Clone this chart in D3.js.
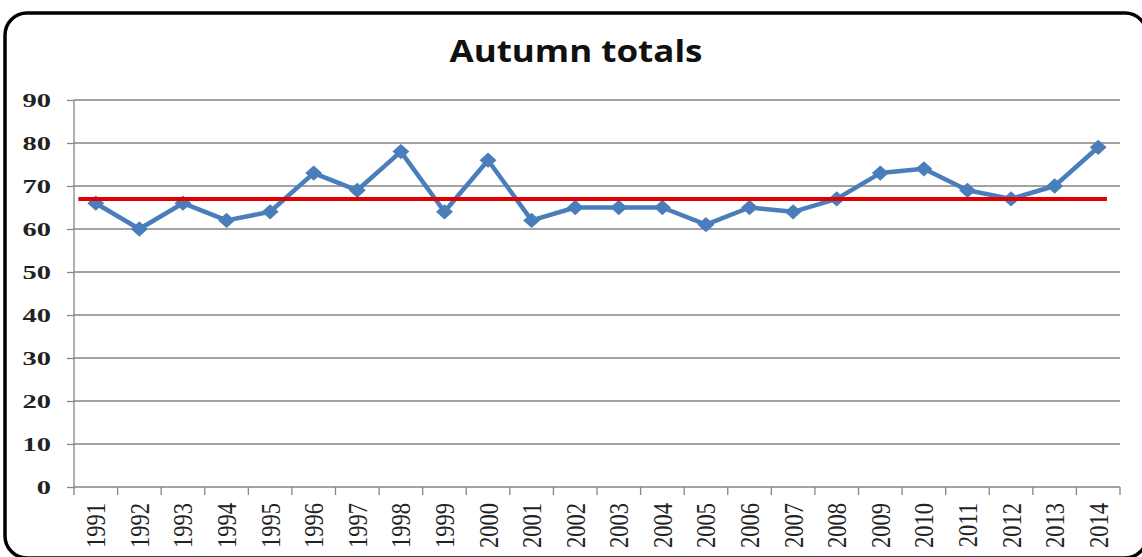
<!DOCTYPE html>
<html>
<head>
<meta charset="utf-8">
<script src="https://cdn.jsdelivr.net/npm/d3@7"></script>
<style>
  html, body { margin: 0; padding: 0; background: #fff; }
  svg { display: block; }
</style>
</head>
<body>
<div id="main"></div>
<script>
// chart data
const years = ['1991','1992','1993','1994','1995','1996','1997','1998','1999','2000','2001','2002',
               '2003','2004','2005','2006','2007','2008','2009','2010','2011','2012','2013','2014'];
const autumnTotals = [66, 60, 66, 62, 64, 73, 69, 78, 64, 76, 62, 65,
                      65, 65, 61, 65, 64, 67, 73, 74, 69, 67, 70, 79];
const averageValue = 67;
const yTicks = [0, 10, 20, 30, 40, 50, 60, 70, 80, 90];
const chartTitle = 'Autumn totals';

class AutumnLineChart {
  constructor(config) {
    this.config = config;
    this.svg = null;
    this.xScale = null;
    this.yScale = null;
    this.createSvg();
  }

  createSvg() {
    this.svg = d3.select(this.config.div)
      .append('svg')
      .attr('width', this.config.width)
      .attr('height', this.config.height);

    // rounded frame around the whole chart
    this.svg.append('rect')
      .attr('x', 5)
      .attr('y', 13)
      .attr('width', 1142)
      .attr('height', 545)
      .attr('rx', 22)
      .attr('fill', '#fff')
      .attr('stroke', '#000')
      .attr('stroke-width', 3.5);
  }

  createScales() {
    this.xScale = d3.scaleBand().domain(years).range([this.config.left, this.config.right]);
    this.yScale = d3.scaleLinear().domain([0, 90]).range([this.config.bottom, this.config.top]);
  }

  createAxis() {
    const x = this.xScale, y = this.yScale;

    // horizontal gridlines
    this.svg.append('g')
      .selectAll('line')
      .data(yTicks.filter(d => d > 0))
      .enter()
      .append('line')
        .attr('x1', this.config.left)
        .attr('x2', this.config.right)
        .attr('y1', d => y(d))
        .attr('y2', d => y(d))
        .attr('stroke', '#858585')
        .attr('stroke-width', 1.3);

    // y axis
    const yAxis = d3.axisLeft(y).tickValues(yTicks).tickSize(7).tickPadding(0);
    const gy = this.svg.append('g')
      .attr('transform', `translate(${this.config.left},0)`)
      .call(yAxis);
    gy.select('.domain').remove();
    gy.append('line')
      .attr('x1', 0).attr('x2', 0)
      .attr('y1', this.config.top).attr('y2', this.config.bottom)
      .attr('stroke', '#858585').attr('stroke-width', 1.3);
    gy.selectAll('.tick line').attr('stroke', '#858585').attr('stroke-width', 1.3);
    gy.selectAll('.tick text')
      .attr('x', 0)
      .attr('dy', '0.34em')
      .attr('transform', 'translate(-23,0) scale(1.5,1)')
      .style('font-family', '"Liberation Serif", "DejaVu Serif", serif')
      .style('font-weight', 'bold')
      .style('font-size', '19px')
      .attr('fill', '#222');

    // x axis: labels at band centres, ticks at band edges
    const gx = this.svg.append('g')
      .attr('transform', `translate(0,${this.config.bottom})`);
    gx.append('line')
      .attr('x1', this.config.left).attr('x2', this.config.right)
      .attr('stroke', '#858585').attr('stroke-width', 1.3);
    const edges = years.map(d => x(d)).concat([x.range()[1]]);
    gx.selectAll('.edge')
      .data(edges)
      .enter()
      .append('line')
        .attr('class', 'edge')
        .attr('x1', d => d).attr('x2', d => d)
        .attr('y1', 0).attr('y2', 8)
        .attr('stroke', '#858585').attr('stroke-width', 1.3);
    gx.selectAll('.year')
      .data(years)
      .enter()
      .append('text')
        .attr('class', 'year')
        .attr('transform', d => `translate(${x(d) + x.bandwidth() / 2},16) rotate(-90) scale(1.25,1.55)`)
        .attr('dy', '0.34em')
        .attr('text-anchor', 'end')
        .style('font-family', '"Liberation Serif", "DejaVu Serif", serif')
        .style('font-size', '18px')
        .attr('fill', '#222')
        .text(d => d);

    // title
    this.svg.append('text')
      .attr('x', 576)
      .attr('y', 62)
      .attr('text-anchor', 'middle')
      .attr('textLength', 253)
      .attr('lengthAdjust', 'spacingAndGlyphs')
      .style('font-family', '"Open Sans", "Liberation Sans", sans-serif')
      .style('font-weight', 'bold')
      .style('font-size', '31px')
      .attr('fill', '#111')
      .text(chartTitle);
  }

  renderLines() {
    const x = this.xScale, y = this.yScale;
    const cx = d => x(d) + x.bandwidth() / 2;
    const points = years.map((d, i) => ({ year: d, value: autumnTotals[i] }));

    const line = d3.line()
      .x(d => cx(d.year))
      .y(d => y(d.value));

    this.svg.append('path')
      .datum(points)
      .attr('d', line)
      .attr('fill', 'none')
      .attr('stroke', '#4a7ebb')
      .attr('stroke-width', 4.5)
      .attr('stroke-linejoin', 'round');

    // diamond markers
    this.svg.append('g')
      .selectAll('path')
      .data(points)
      .enter()
      .append('path')
        .attr('d', d3.symbol().type(d3.symbolDiamond2).size(150))
        .attr('transform', d => `translate(${cx(d.year)},${y(d.value)}) scale(1.1,1)`)
        .attr('fill', '#4a7ebb');

    // average line
    const step = x.step();
    this.svg.append('line')
      .attr('x1', x(years[0]) + step * 0.1)
      .attr('x2', x(years[years.length - 1]) + step * 0.7)
      .attr('y1', y(averageValue))
      .attr('y2', y(averageValue))
      .attr('stroke', '#e00000')
      .attr('stroke-width', 4);
  }
}

const chartConfig = { div: '#main', width: 1142, height: 557, left: 74, right: 1120, top: 100, bottom: 487 };
const chart = new AutumnLineChart(chartConfig);
chart.createScales();
chart.createAxis();
chart.renderLines();
</script>
</body>
</html>
